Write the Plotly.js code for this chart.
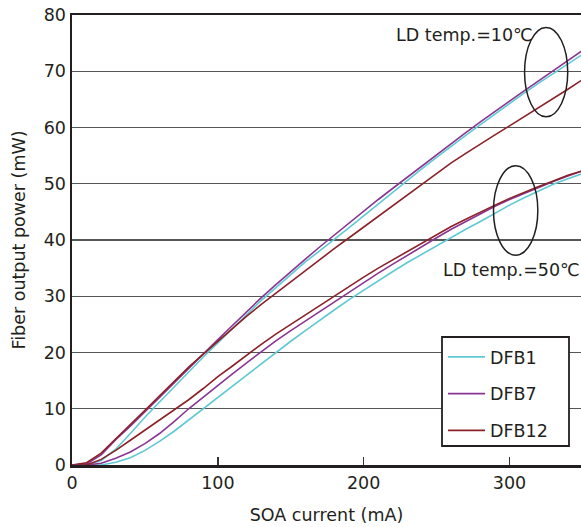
<!DOCTYPE html>
<html>
<head>
<meta charset="utf-8">
<script src="https://cdn.plot.ly/plotly-3.0.1.min.js"></script>
<style>html,body{margin:0;padding:0;background:#fff;}#chart{width:581px;height:527px;}</style>
</head>
<body>
<div id="chart"></div>
<script>
// SOA current (mA)
const soaCurrent = [0,10,20,30,40,50,60,70,80,90,100,110,120,130,140,150,160,170,180,190,200,210,220,230,240,250,260,270,280,290,300,310,320,330,340,350];

// LD temp. = 10 C
const dfb1_10C  = [0,0,0.8,2.8,5.6,8.5,11.2,13.9,16.6,19.2,21.7,24.3,26.8,29.3,31.6,33.9,36.1,38.1,40.1,42.2,44.3,46.4,48.6,50.7,52.7,54.7,56.7,58.6,60.5,62.4,64.3,66.1,67.9,69.6,71.3,73.0];
const dfb7_10C  = [0,0.2,1.8,4.5,6.9,9.4,12.0,14.6,17.2,19.8,22.3,24.8,27.3,29.8,32.1,34.4,36.6,38.8,40.9,43.1,45.2,47.2,49.2,51.2,53.1,55.1,57.1,59.1,61.0,62.9,64.7,66.5,68.3,70.1,71.9,73.7];
const dfb12_10C = [0,0.4,2.1,4.7,7.2,9.7,12.3,14.9,17.4,19.7,22.0,24.3,26.5,28.6,30.6,32.6,34.6,36.6,38.5,40.4,42.3,44.3,46.2,48.1,50.0,51.9,53.7,55.4,57.1,58.7,60.3,61.9,63.5,65.1,66.8,68.5];

// LD temp. = 50 C
const dfb1_50C  = [0,0,0,0.5,1.3,2.6,4.2,6.0,8.0,10.0,12.0,14.0,16.0,18.0,20.1,22.0,23.9,25.8,27.6,29.4,31.1,32.8,34.4,36.0,37.5,39.0,40.5,41.9,43.3,44.8,46.2,47.5,48.7,49.9,50.9,51.8];
const dfb7_50C  = [0,0,0.3,1.2,2.3,3.8,5.6,7.7,10.0,12.1,14.2,16.2,18.2,20.2,22.1,23.9,25.6,27.3,29.0,30.8,32.5,34.1,35.7,37.3,38.9,40.4,41.9,43.3,44.7,46.0,47.2,48.3,49.4,50.4,51.4,52.3];
const dfb12_50C = [0,0,1.0,2.6,4.4,6.2,8.0,9.7,11.6,13.6,15.7,17.6,19.6,21.5,23.3,25.0,26.7,28.4,30.1,31.8,33.4,35.0,36.5,38.0,39.5,41.0,42.4,43.7,45.0,46.2,47.4,48.5,49.5,50.5,51.5,52.3];

const seriesNames = ["DFB1","DFB7","DFB12"];
const seriesColors = ["#5ec9d3","#8a3593","#8b2228"];
const xTicks = [0,100,200,300];
const annoTexts = ["LD temp.=10℃","LD temp.=50℃"];

const data10 = [dfb1_10C, dfb7_10C, dfb12_10C];
const data50 = [dfb1_50C, dfb7_50C, dfb12_50C];

const traces = [];
for (let i = 0; i < 3; i++) {
  traces.push({x: soaCurrent, y: data10[i], type: 'scatter', mode: 'lines', name: seriesNames[i],
    legendgroup: seriesNames[i], showlegend: true, line: {color: seriesColors[i], width: 1.6}});
}
for (let i = 0; i < 3; i++) {
  traces.push({x: soaCurrent, y: data50[i], type: 'scatter', mode: 'lines', name: seriesNames[i],
    legendgroup: seriesNames[i], showlegend: false, line: {color: seriesColors[i], width: 1.6}});
}

const fontFam = '"DejaVu Sans", "Liberation Sans", Arial, sans-serif';
const fs = 17.5;
function px2x(p){ return (p - 72) / 509 * 349; }
function py2y(p){ return (465 - p) / 450 * 80; }
function pxPaper(p){ return (p - 72) / 509; }
function pyPaper(p){ return (465 - p) / 450; }

const layout = {
  width: 581, height: 527,
  margin: {l: 72, r: 0, t: 15, b: 62},
  paper_bgcolor: '#fff', plot_bgcolor: '#fff',
  font: {family: fontFam, color: '#231f20', size: fs},
  showlegend: true,
  xaxis: {
    range: [0, 349], tickvals: xTicks, ticks: 'inside', ticklen: 8, tickwidth: 1.5, tickcolor: '#333',
    showgrid: false, zeroline: false, showline: true, linecolor: '#231f20', linewidth: 2.5, mirror: true,
    tickfont: {size: fs},
    title: {text: 'SOA current (mA)', font: {size: fs}, standoff: 17}
  },
  yaxis: {
    range: [0, 80], dtick: 10, ticks: '', showgrid: true, gridcolor: '#555', gridwidth: 1.3,
    zeroline: false, showline: true, linecolor: '#231f20', linewidth: 2.5,
    tickfont: {size: fs},
    title: {text: 'Fiber output power (mW)', font: {size: fs}, standoff: 14}
  },
  legend: {
    x: pxPaper(443), y: pyPaper(339), xanchor: 'left', yanchor: 'top',
    bgcolor: 'rgba(0,0,0,0)', borderwidth: 0,
    font: {size: fs}, traceorder: 'grouped', tracegroupgap: 11, itemwidth: 37
  },
  annotations: [
    {x: px2x(464), y: py2y(35), xref: 'x', yref: 'y', text: annoTexts[0], showarrow: false, font: {size: fs}},
    {x: px2x(511), y: py2y(270), xref: 'x', yref: 'y', text: annoTexts[1], showarrow: false, font: {size: fs}}
  ],
  shapes: [
    {type: 'circle', xref: 'x', yref: 'y', x0: 310.3, x1: 339.9, y0: 61.9, y1: 77.8, line: {color: '#231f20', width: 1.5}},
    {type: 'circle', xref: 'x', yref: 'y', x0: 289, x1: 319.4, y0: 37.3, y1: 53.2, line: {color: '#231f20', width: 1.5}},
    {type: 'rect', xref: 'paper', yref: 'paper', layer: 'above',
     x0: pxPaper(442), x1: pxPaper(569), y0: pyPaper(446), y1: pyPaper(337),
     fillcolor: '#fff', line: {color: '#231f20', width: 1.8}}
  ]
};

Plotly.newPlot('chart', traces, layout, {displayModeBar: false, staticPlot: true});
</script>
</body>
</html>
